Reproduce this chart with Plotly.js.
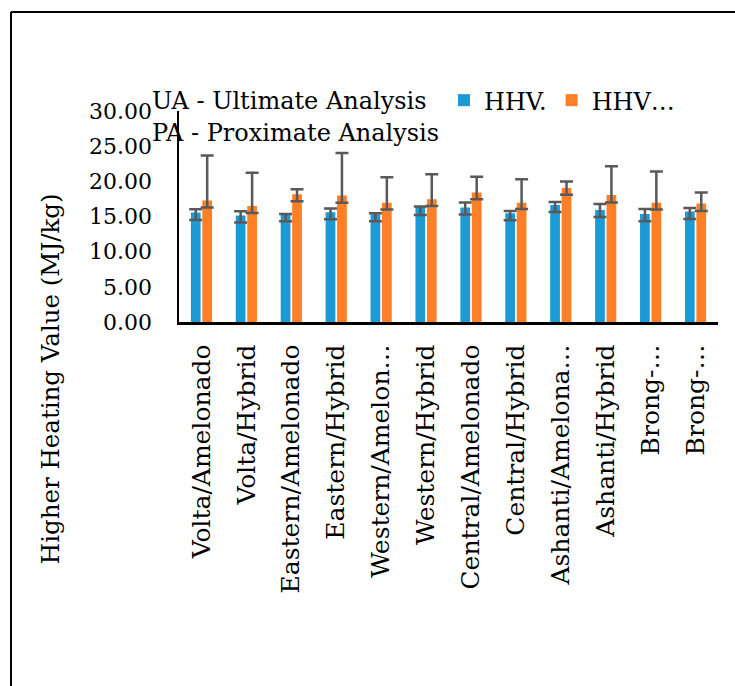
<!DOCTYPE html>
<html>
<head>
<meta charset="utf-8">
<script src="https://cdn.plot.ly/plotly-3.0.1.min.js"></script>
<style>html,body{margin:0;padding:0;background:#fff;}#chart{width:735px;height:686px;}</style>
</head>
<body>
<div id="chart"></div>
<script>
// ---- data ----
const categories = ["Volta/Amelonado","Volta/Hybrid","Eastern/Amelonado","Eastern/Hybrid","Western/Amelonado","Western/Hybrid","Central/Amelonado","Central/Hybrid","Ashanti/Amelonado","Ashanti/Hybrid","Brong-Ahafo/Amelonado","Brong-Ahafo/Hybrid"];
const tickLabels = ["Volta/Amelonado","Volta/Hybrid","Eastern/Amelonado","Eastern/Hybrid","Western/Amelon…","Western/Hybrid","Central/Amelonado","Central/Hybrid","Ashanti/Amelona…","Ashanti/Hybrid","Brong-…","Brong-…"];
const seriesNames = ["HHV.", "HHV…"];
const hhvUA = [15.56,15.14,15.23,15.61,15.32,16.36,16.27,15.47,16.64,15.93,15.37,15.71];
const hhvUAplus = [0.47,0.61,0.14,0.52,0.15,0.05,0.71,0.32,0.42,0.85,0.70,0.50];
const hhvUAminus = [1.04,0.99,0.89,0.99,0.98,1.13,0.99,0.99,0.99,0.99,1.03,1.05];
const hhvPA = [17.26,16.50,18.15,17.97,16.95,17.44,18.43,16.95,19.04,18.05,16.95,16.84];
const hhvPAplus = [6.40,4.71,0.71,6.07,3.64,3.58,2.22,3.36,0.95,4.10,4.45,1.59];
const hhvPAminus = [0.99,0.99,0.99,1.00,0.96,0.94,0.99,0.88,0.93,1.05,0.96,1.05];
const yTicks = [0,5,10,15,20,25,30];
const notes = ["UA - Ultimate Analysis","PA - Proximate Analysis"];
const yTitle = "Higher Heating Value (MJ/kg)";

// ---- layout geometry (pixels) ----
const W = 735, H = 686;
const L = 179, R = 718, T = 110.5, B = 322.5;
const pw = R - L, ph = B - T;
const px = x => (x - L) / pw;
const py = y => (B - y) / ph;

const FONT = "DejaVu Serif";
const errStyle = (plus, minus) => ({type:'data', symmetric:false, array:plus, arrayminus:minus, color:'#595959', thickness:2.5, width:6.5});

const traces = [
  {type:'bar', name:seriesNames[0], x:categories, y:hhvUA, marker:{color:'#1B9AD6'}, error_y:errStyle(hhvUAplus,hhvUAminus)},
  {type:'bar', name:seriesNames[1], x:categories, y:hhvPA, marker:{color:'#FF7F27'}, error_y:errStyle(hhvPAplus,hhvPAminus)}
];

const layout = {
  width:W, height:H,
  margin:{l:L, r:W-R, t:T, b:H-B, pad:0},
  paper_bgcolor:'#fff', plot_bgcolor:'#fff',
  font:{family:FONT, color:'#000', size:22},
  barmode:'group', bargap:0.49, bargroupgap:0.15,
  showlegend:true,
  legend:{orientation:'h', x:px(444), y:py(100), xanchor:'left', yanchor:'middle', font:{size:24}, itemwidth:30, tracegroupgap:0, bgcolor:'rgba(0,0,0,0)'},
  xaxis:{type:'category', tickmode:'array', tickvals:categories, ticktext:tickLabels, tickangle:-90,
         showline:true, linecolor:'#000', linewidth:2.5, ticks:'', showgrid:false, zeroline:false,
         tickfont:{size:25}, ticklabelstandoff:10, automargin:false},
  yaxis:{range:[0,30], tickmode:'array', tickvals:yTicks, tickformat:'.2f', showline:true, linecolor:'#000', linewidth:2.5,
         ticks:'', showgrid:false, zeroline:false, tickfont:{size:22}, ticklabelstandoff:20, automargin:false},
  annotations:[
    {text:notes[0], xref:'paper', yref:'paper', x:px(150), y:py(100), xanchor:'left', yanchor:'middle', showarrow:false, font:{size:24}},
    {text:notes[1], xref:'paper', yref:'paper', x:px(150), y:py(133), xanchor:'left', yanchor:'middle', showarrow:false, font:{size:24}},
    {text:yTitle, xref:'paper', yref:'paper', x:px(50), y:py(380), xanchor:'center', yanchor:'middle', textangle:-90, showarrow:false, font:{size:24.5}}
  ],
  shapes:[
    {type:'line', xref:'paper', yref:'paper', x0:px(11), y0:py(11), x1:px(740), y1:py(11), line:{color:'#000', width:2}},
    {type:'line', xref:'paper', yref:'paper', x0:px(11), y0:py(11), x1:px(11), y1:py(690), line:{color:'#000', width:2}}
  ]
};

Plotly.newPlot('chart', traces, layout, {staticPlot:true, displayModeBar:false});
</script>
</body>
</html>
